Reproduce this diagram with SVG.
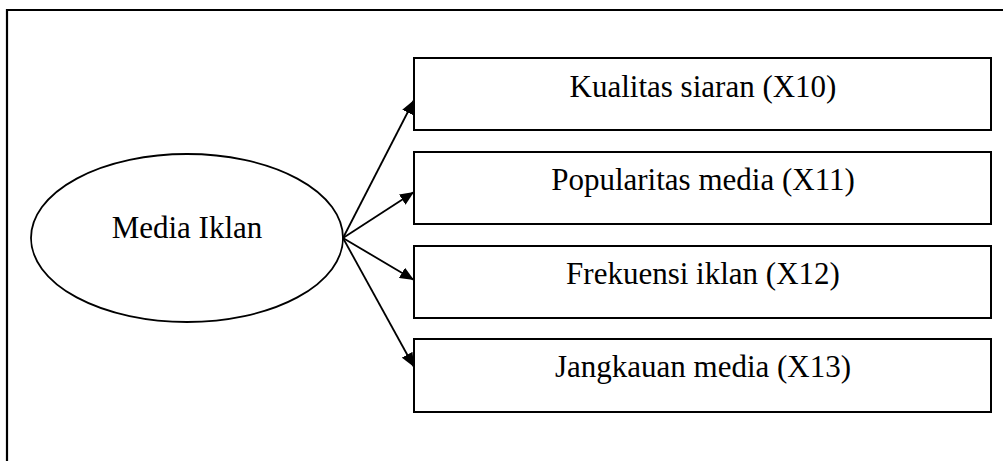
<svg xmlns="http://www.w3.org/2000/svg" width="1003" height="461" viewBox="0 0 1003 461">
<defs>
<marker id="ah" viewBox="0 0 14 12" refX="14" refY="6" markerWidth="14" markerHeight="12" markerUnits="userSpaceOnUse" orient="auto">
<path d="M0,0 L14,6 L0,12 Z" fill="#000"/>
</marker>
<style>
.box{fill:#fff;stroke:#000;stroke-width:2}
.lbl{font-family:"Liberation Serif","Times New Roman",serif;font-size:31px;fill:#000;text-anchor:middle}
.conn{stroke:#000;stroke-width:1.8;fill:none}
</style>
</defs>
<rect width="1003" height="461" fill="#fff"/>
<g id="frame">
<path d="M7,461 L7,10 L1003,10" fill="none" stroke="#000" stroke-width="2.2"/>
</g>
<g id="media-iklan">
<ellipse cx="187" cy="238" rx="156" ry="84" fill="#fff" stroke="#000" stroke-width="1.8"/>
<text class="lbl" x="187" y="238">Media Iklan</text>
</g>
<g id="x10">
<rect class="box" x="414" y="58" width="577" height="72"/>
<text class="lbl" x="703" y="97">Kualitas siaran (X10)</text>
</g>
<g id="x11">
<rect class="box" x="414" y="152" width="577" height="72"/>
<text class="lbl" x="703" y="190">Popularitas media (X11)</text>
</g>
<g id="x12">
<rect class="box" x="414" y="246" width="577" height="72"/>
<text class="lbl" x="703" y="284">Frekuensi iklan (X12)</text>
</g>
<g id="x13">
<rect class="box" x="414" y="339" width="577" height="73"/>
<text class="lbl" x="703" y="377">Jangkauan media (X13)</text>
</g>
<g id="connectors">
<line class="conn" x1="343" y1="238" x2="414" y2="100" marker-end="url(#ah)"/>
<line class="conn" x1="343" y1="238" x2="414" y2="192" marker-end="url(#ah)"/>
<line class="conn" x1="343" y1="238" x2="414" y2="280" marker-end="url(#ah)"/>
<line class="conn" x1="343" y1="238" x2="414" y2="367" marker-end="url(#ah)"/>
</g>
</svg>
